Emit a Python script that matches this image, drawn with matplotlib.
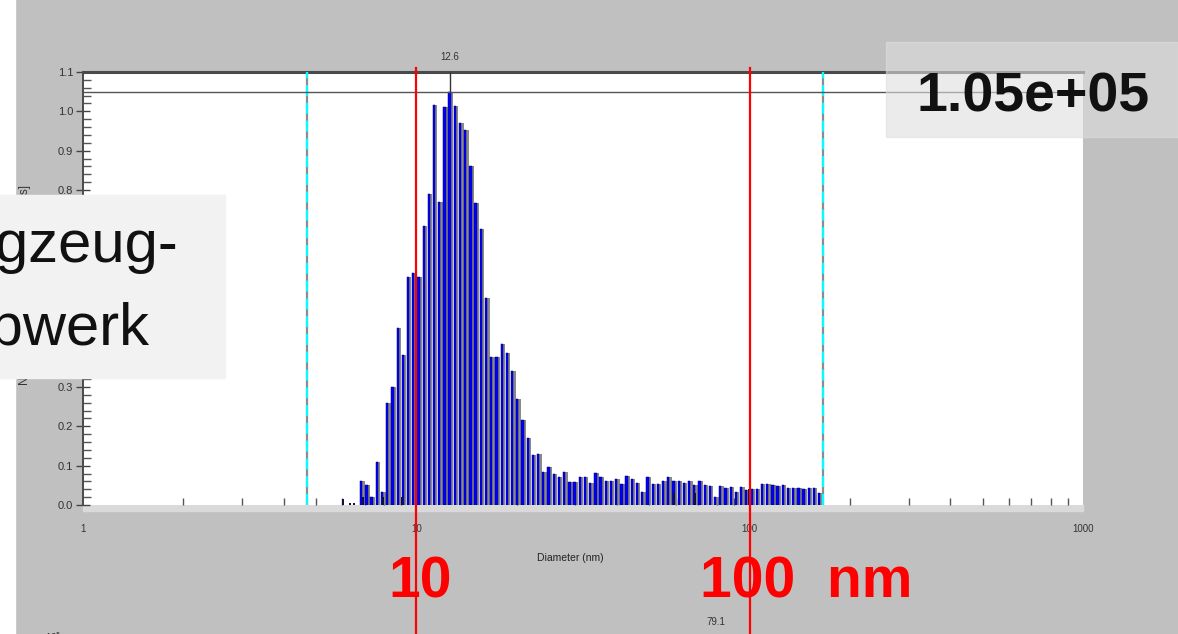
import matplotlib.pyplot as plt
from matplotlib.patches import Rectangle
from matplotlib.ticker import MultipleLocator, NullFormatter

plt.rcParams["font.family"] = ["Liberation Sans", "DejaVu Sans"]

# bin centres of the size distribution (nm), log spaced
diameter_nm = [
    6.84, 7.09, 7.35, 7.62, 7.90, 8.19, 8.49, 8.80, 9.12, 9.45,
    9.80, 10.16, 10.53, 10.91, 11.31, 11.73, 12.16, 12.60, 13.06, 13.54,
    14.04, 14.55, 15.08, 15.64, 16.21, 16.80, 17.42, 18.05, 18.72, 19.40,
    20.11, 20.85, 21.61, 22.40, 23.22, 24.07, 24.95, 25.87, 26.81, 27.80,
    28.81, 29.87, 30.96, 32.09, 33.27, 34.49, 35.75, 37.06, 38.42, 39.82,
    41.28, 42.79, 44.36, 45.98, 47.66, 49.41, 51.22, 53.09, 55.04, 57.05,
    59.14, 61.30, 63.55, 65.88, 68.29, 70.79, 73.38, 76.06, 78.85, 81.74,
    84.73, 87.83, 91.04, 94.38, 97.83, 101.41, 105.13, 108.97, 112.96, 117.10,
    121.39, 125.83, 130.44, 135.21, 140.16, 145.29, 150.61, 156.12, 161.84,
]
intensity = [
    0.062, 0.051, 0.020, 0.109, 0.034, 0.260, 0.300, 0.450, 0.380, 0.580,
    0.590, 0.580, 0.710, 0.790, 1.015, 0.770, 1.010, 1.050, 1.014, 0.970,
    0.953, 0.860, 0.767, 0.700, 0.526, 0.376, 0.376, 0.410, 0.385, 0.340,
    0.270, 0.215, 0.170, 0.127, 0.130, 0.084, 0.097, 0.079, 0.070, 0.085,
    0.058, 0.058, 0.070, 0.070, 0.056, 0.082, 0.070, 0.062, 0.062, 0.066,
    0.053, 0.074, 0.066, 0.055, 0.034, 0.072, 0.053, 0.053, 0.062, 0.072,
    0.062, 0.062, 0.056, 0.062, 0.051, 0.062, 0.051, 0.047, 0.021, 0.047,
    0.042, 0.045, 0.034, 0.045, 0.038, 0.040, 0.040, 0.053, 0.053, 0.051,
    0.048, 0.051, 0.044, 0.042, 0.042, 0.040, 0.042, 0.042, 0.030,
]
# small dark secondary bars
dark_nm = [6.04, 6.34, 6.52, 6.90, 7.95, 9.07, 10.0, 59.2, 68.6, 99.5]
dark_val = [0.015, 0.006, 0.006, 0.020, 0.020, 0.020, 0.030, 0.030, 0.030, 0.040]

peak_nm = 12.6
peak_level = 1.05
cursor_nm = [4.71, 165.7]
marker_nm = [10, 100]
lower_label = "79.1"

W, H = 1178, 634
fx = lambda x: x / W
fy = lambda y: 1 - y / H
px = lambda p: 10 ** (p / 333.0)   # pixel offset -> log factor

fig = plt.figure(figsize=(W / 100, H / 100), dpi=100, facecolor="#c0c0c0")
fig.add_artist(Rectangle((0, 0), fx(15), 1, transform=fig.transFigure,
                         color="white", zorder=-2))
fig.add_artist(Rectangle((fx(83), fy(511)), fx(1000), 6 / H, transform=fig.transFigure,
                         color="#dadada", zorder=-1))

ax = fig.add_axes([fx(83), fy(505), fx(1000), 433 / H])
ax.set_xscale("log")
ax.set_xlim(1, 1000)
ax.set_ylim(0, 1.1)

# bars: grey shadow + blue face
ax.bar([d * px(0.4) for d in diameter_nm], intensity,
       width=[d * (px(3.3) - px(0.4)) for d in diameter_nm],
       align="edge", color="#8a8a8a", linewidth=0, zorder=2)
ax.bar([d * px(-1.3) for d in diameter_nm], intensity,
       width=[d * (px(1.0) - px(-1.3)) for d in diameter_nm],
       align="edge", color="#0000ff", edgecolor="#000070", linewidth=0.35, zorder=3)
ax.bar([d * px(-1.0) for d in dark_nm], dark_val,
       width=[d * (px(1.0) - px(-1.0)) for d in dark_nm],
       align="edge", color="#101040", linewidth=0, zorder=3)

for c in cursor_nm:
    ax.axvline(c, color="#8c8c8c", lw=1.6, zorder=4)
    ax.axvline(c, color="#00ffff", lw=1.6, linestyle=(0, (5, 3)), zorder=4)

ax.axhline(peak_level, color="#555555", lw=1, zorder=4)
ax.vlines(peak_nm, peak_level, 1.1, color="#333333", lw=1, zorder=4)
ax.text(peak_nm, 1.138, "12.6", ha="center", va="center", fontsize=7,
        color="#333333", clip_on=False)
ax.text(79.1, -0.297, lower_label, ha="center", va="center", fontsize=7,
        color="#333333", clip_on=False)

for m in marker_nm:
    ax.axvline(m, ymin=-0.3, ymax=1.009, color="#ff0000", lw=1.6,
               clip_on=False, zorder=6)

ax.spines["right"].set_visible(False)
ax.spines["bottom"].set_visible(False)
ax.spines["top"].set_color("#4a4a4a")
ax.spines["top"].set_linewidth(2.2)
ax.spines["left"].set_color("#4a4a4a")
ax.spines["left"].set_linewidth(1.4)

ax.set_xticks([1, 10, 100, 1000], labels=["1", "10", "100", "1000"])
ax.xaxis.set_minor_formatter(NullFormatter())
ax.tick_params(axis="x", which="major", length=0, pad=14, labelsize=7, labelcolor="#333333")
ax.tick_params(axis="x", which="minor", direction="in", length=5, width=1, color="#555555")
ax.yaxis.set_major_locator(MultipleLocator(0.1))
ax.yaxis.set_minor_locator(MultipleLocator(0.02))
ax.set_yticks([i / 10 for i in range(12)],
              labels=["%.1f" % (i / 10) for i in range(12)])
ax.tick_params(axis="y", which="major", direction="inout", length=10, width=1,
               color="#444444", pad=2, labelsize=8, labelcolor="#333333")
ax.tick_params(axis="y", which="minor", direction="in", length=5.5, width=1,
               color="#555555")

fig.text(fx(570), fy(558), "Diameter (nm)", ha="center", va="center",
         fontsize=7.5, color="#222222")
fig.text(fx(25), fy(285), "Normalized Intensity [photon counts/s]", rotation=90,
         ha="center", va="center", fontsize=8.5, color="#333333", zorder=1)
fig.text(fx(45), fy(637), "10$^5$", ha="left", va="center", fontsize=7,
         color="#333333")

# red annotations
fig.text(fx(388), fy(597), "10", color="#ff0000", fontsize=41,
         fontweight="bold", ha="left", va="baseline", zorder=7)
fig.text(fx(700), fy(597), "100  nm", color="#ff0000", fontsize=41,
         fontweight="bold", ha="left", va="baseline", zorder=7)

# overlay boxes
fig.add_artist(Rectangle((0, fy(378)), fx(225), 183 / H, transform=fig.transFigure,
                         color="#f2f2f2", zorder=5))
fig.text(fx(178), fy(262), "Flugzeug-", fontsize=43, ha="right", va="baseline",
         color="#111111", zorder=6)
fig.text(fx(150), fy(345), "Triebwerk", fontsize=43, ha="right", va="baseline",
         color="#111111", zorder=6)

fig.add_artist(Rectangle((fx(886), fy(137)), fx(292), 95 / H, transform=fig.transFigure,
                         color="#dedede", alpha=0.6, zorder=5))
fig.text(fx(916), fy(112), "1.05e+05", fontsize=40, fontweight="bold",
         ha="left", va="baseline", color="#111111", zorder=6)

fig.savefig("out.png", dpi=100, facecolor=fig.get_facecolor())
